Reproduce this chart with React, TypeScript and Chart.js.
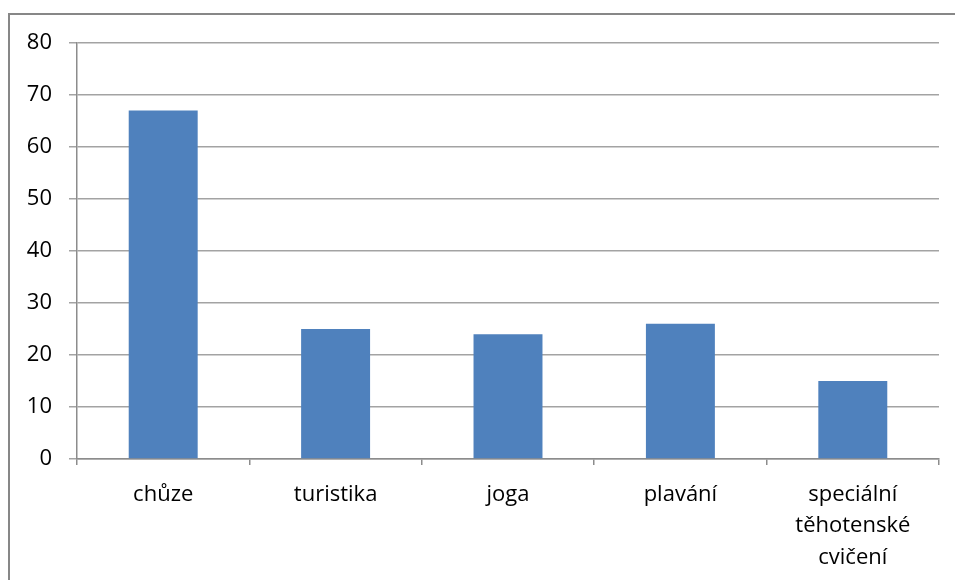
import React, { useEffect, useRef } from "react";
import { Chart, registerables } from "chart.js";

Chart.register(...registerables);

const categories: (string | string[])[] = [
  "chůze",
  "turistika",
  "joga",
  "plavání",
  ["speciální", "těhotenské", "cvičení"],
];
const values: number[] = [67, 25, 24, 26, 15];
const yTicks = { min: 0, max: 80, step: 10 };

const BAR_COLOR = "#4f81bd";
const GRID_COLOR = "#a3a3a3";
const AXIS_COLOR = "#8c8c8c";
const FRAME_COLOR = "#878787";
const FONT_FAMILY = "'Open Sans', 'Noto Sans', sans-serif";

// Outer frame around the whole chart object, running off the right/bottom edges
const framePlugin = {
  id: "outerFrame",
  beforeDraw(chart: Chart) {
    const ctx = chart.ctx;
    ctx.save();
    ctx.fillStyle = "#ffffff";
    ctx.fillRect(0, 0, chart.width, chart.height);
    ctx.strokeStyle = FRAME_COLOR;
    ctx.lineWidth = 2;
    ctx.strokeRect(9, 14, chart.width + 20, chart.height + 20);
    ctx.restore();
  },
};

export default function App() {
  const canvasRef = useRef<HTMLCanvasElement | null>(null);

  useEffect(() => {
    if (!canvasRef.current) return;
    const chart = new Chart(canvasRef.current, {
      type: "bar",
      data: {
        labels: categories,
        datasets: [
          {
            data: values,
            backgroundColor: BAR_COLOR,
            borderWidth: 0,
            barPercentage: 0.4,
            categoryPercentage: 1,
          },
        ],
      },
      plugins: [framePlugin],
      options: {
        animation: false,
        responsive: true,
        maintainAspectRatio: false,
        layout: { padding: { top: 43, right: 16, left: 0, bottom: 0 } },
        plugins: {
          legend: { display: false },
          tooltip: { enabled: false },
        },
        scales: {
          x: {
            grid: {
              offset: true,
              drawOnChartArea: false,
              drawTicks: true,
              tickLength: 6,
              color: AXIS_COLOR,
              lineWidth: 1.5,
            },
            border: { color: AXIS_COLOR, width: 1.5 },
            ticks: {
              color: "#000000",
              padding: 14,
              maxRotation: 0,
              autoSkip: false,
              font: { family: FONT_FAMILY, size: 22, lineHeight: 1.43 },
            },
            afterFit(scale: any) {
              scale.height = 121;
            },
          },
          y: {
            min: yTicks.min,
            max: yTicks.max,
            grid: {
              color: GRID_COLOR,
              lineWidth: 1.5,
              tickLength: 8,
              drawTicks: true,
            },
            border: { color: AXIS_COLOR, width: 1.5 },
            ticks: {
              stepSize: yTicks.step,
              color: "#000000",
              padding: 17,
              font: { family: FONT_FAMILY, size: 22 },
            },
            afterFit(scale: any) {
              scale.width = 77;
            },
          },
        },
      },
    });
    return () => chart.destroy();
  }, []);

  return (
    <div
      style={{
        position: "fixed",
        left: 0,
        top: 0,
        width: 955,
        height: 580,
        background: "#ffffff",
      }}
    >
      <canvas ref={canvasRef} />
    </div>
  );
}
